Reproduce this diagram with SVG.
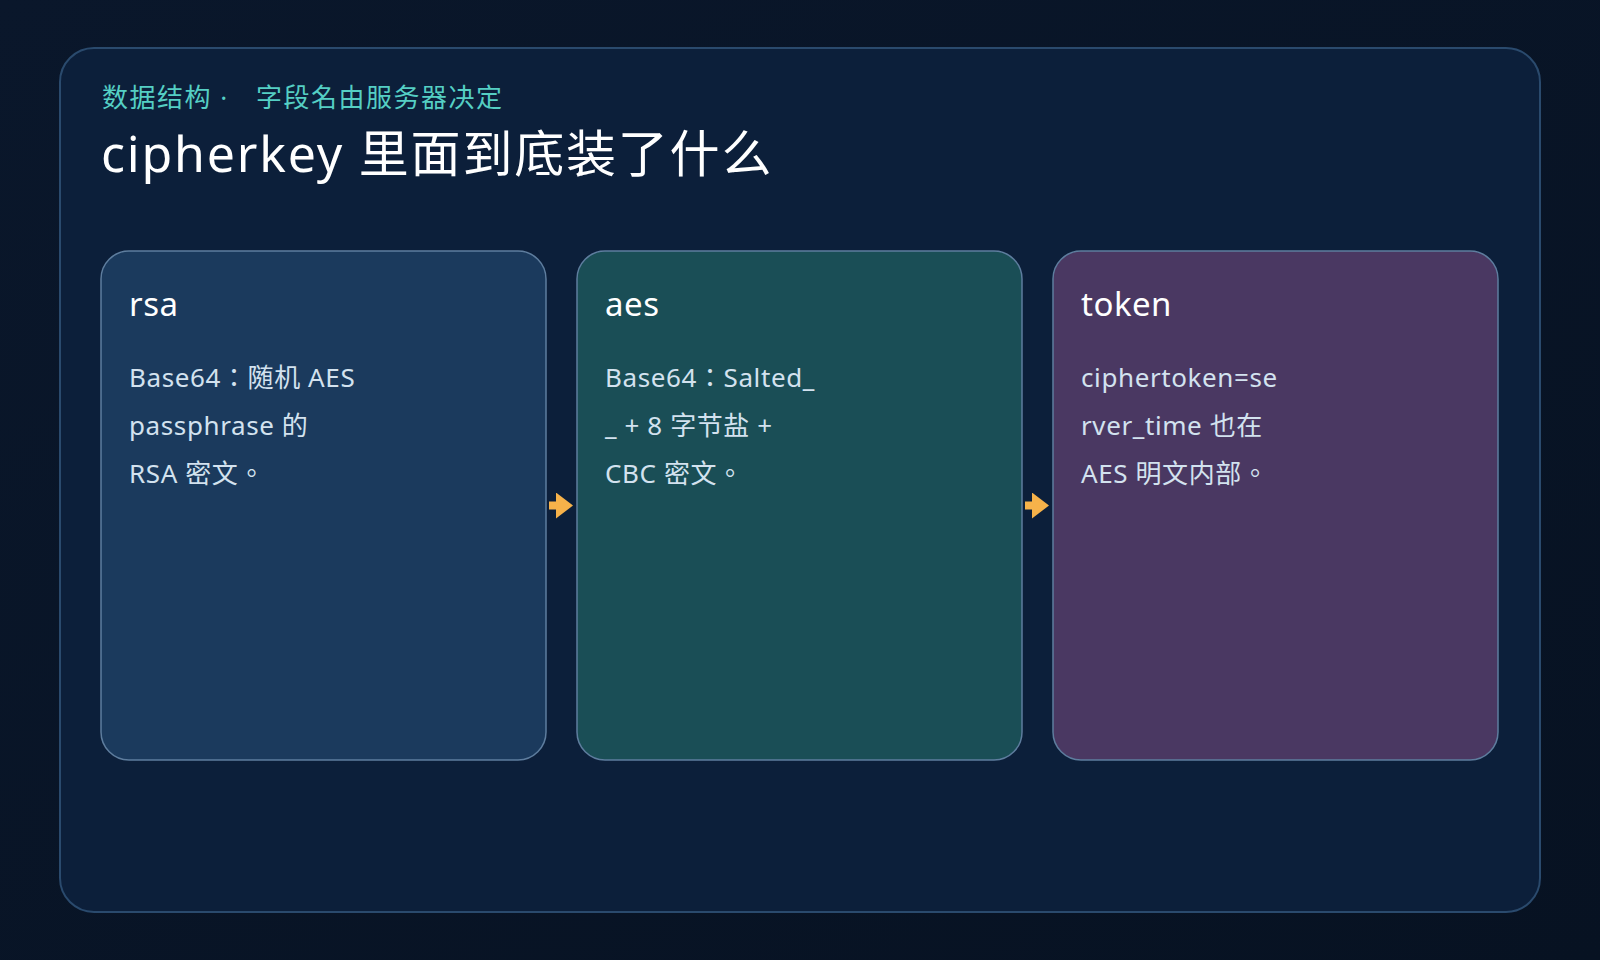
<svg xmlns="http://www.w3.org/2000/svg" width="1600" height="960" viewBox="0 0 1600 960">
  <defs>
    <linearGradient id="bg" x1="0" y1="0" x2="1" y2="1">
      <stop offset="0" stop-color="#0a172b"/>
      <stop offset="1" stop-color="#071222"/>
    </linearGradient>
    <marker id="arrow" viewBox="0 0 17 26" refX="0" refY="13" markerWidth="17" markerHeight="26" markerUnits="userSpaceOnUse" orient="auto">
      <polygon points="0,0 17,13 0,26" fill="#f6b24a"/>
    </marker>
    <style>
      .t { font-family: "Noto Sans", "Noto Sans CJK TC", sans-serif; }
      .sub { font-size: 26px; fill: #55cfc4; letter-spacing: 1.5px; }
      .title { font-size: 50px; fill: #ffffff; letter-spacing: 1.8px; }
      .card { stroke: #5e7d9e; stroke-width: 1.5; }
      .head { font-size: 33px; fill: #ffffff; letter-spacing: 0.5px; }
      .body { font-size: 26px; fill: #d3e2ef; letter-spacing: 0.6px; }
      .conn { stroke: #f6b24a; stroke-width: 8; fill: none; }
    </style>
  </defs>

  <rect x="0" y="0" width="1600" height="960" fill="url(#bg)"/>

  <g id="panel">
    <rect x="60" y="48" width="1480" height="864" rx="34" ry="34" fill="#0c1f3a" stroke="#2a4a6d" stroke-width="2"/>
    <text class="t sub" y="107"><tspan x="102">数据结构 ·</tspan><tspan x="256">字段名由服务器决定</tspan></text>
    <text class="t title" x="101" y="172">cipherkey 里面到底装了什么</text>
  </g>

  <g id="node-rsa">
    <rect class="card" x="101" y="251" width="445" height="509" rx="28" ry="28" fill="#1b3a5d"/>
    <text class="t head" x="129" y="316">rsa</text>
    <text class="t body" x="129" y="387">Base64：随机 AES</text>
    <text class="t body" x="129" y="435">passphrase 的</text>
    <text class="t body" x="129" y="483">RSA 密文。</text>
  </g>

  <g id="node-aes">
    <rect class="card" x="577" y="251" width="445" height="509" rx="28" ry="28" fill="#1a4e56"/>
    <text class="t head" x="605" y="316">aes</text>
    <text class="t body" x="605" y="387">Base64：Salted_</text>
    <text class="t body" x="605" y="435">_ + 8 字节盐 +</text>
    <text class="t body" x="605" y="483">CBC 密文。</text>
  </g>

  <g id="node-token">
    <rect class="card" x="1053" y="251" width="445" height="509" rx="28" ry="28" fill="#4a3862"/>
    <text class="t head" x="1081" y="316">token</text>
    <text class="t body" x="1081" y="387">ciphertoken=se</text>
    <text class="t body" x="1081" y="435">rver_time 也在</text>
    <text class="t body" x="1081" y="483">AES 明文内部。</text>
  </g>

  <g id="connectors">
    <path class="conn" d="M549,505.5 H556" marker-end="url(#arrow)"/>
    <path class="conn" d="M1025,505.5 H1032" marker-end="url(#arrow)"/>
  </g>
</svg>
